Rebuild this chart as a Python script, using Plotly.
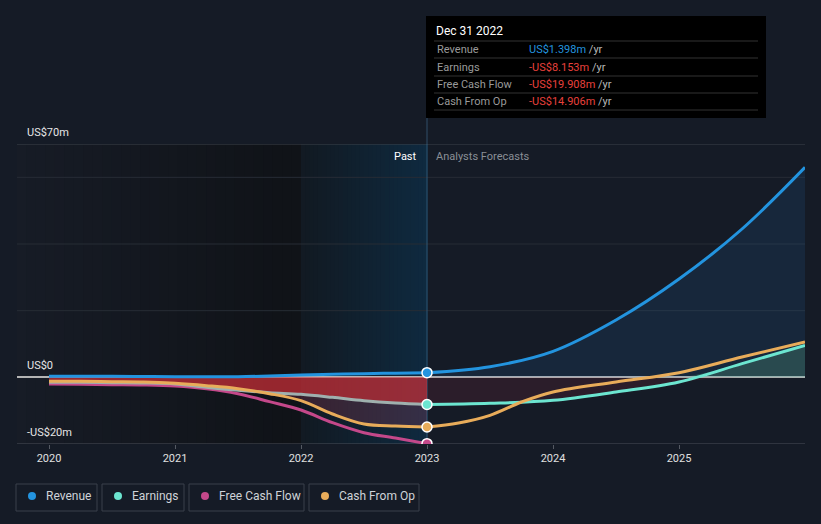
import numpy as np
import plotly.graph_objects as go

# ---------------- data ----------------
past_x = [2020.0, 2020.25, 2020.5, 2020.75, 2021.0, 2021.25, 2021.5, 2021.75,
          2022.0, 2022.25, 2022.5, 2022.75, 2023.0]
rev_past = [0.3, 0.3, 0.3, 0.25, 0.2, 0.2, 0.2, 0.4, 0.7, 0.9, 1.1, 1.25, 1.398]
earn_past = [-1.5, -1.5, -1.6, -1.7, -2.0, -3.0, -3.9, -4.6, -5.1, -6.0, -7.0, -7.7, -8.153]
fcf_past = [-2.0, -2.1, -2.2, -2.3, -2.6, -3.4, -4.9, -7.3, -9.8, -13.6, -16.6, -18.2, -19.908]
cfo_past = [-1.2, -1.2, -1.3, -1.4, -1.8, -2.5, -3.4, -4.9, -7.0, -11.0, -14.0, -14.6, -14.906]

fc_x = [2023.0, 2023.5, 2024.0, 2024.5, 2025.0, 2025.5, 2026.0]
rev_fc = [1.398, 3.2, 7.8, 17.2, 29.5, 44.5, 63.0]
earn_fc = [-8.153, -7.8, -6.9, -4.4, -1.4, 4.1, 9.6]
cfo_fc_x = [2023.0, 2023.25, 2023.5, 2023.75, 2024.0, 2024.5, 2025.0, 2025.5, 2026.0]
cfo_fc = [-14.906, -13.7, -11.4, -7.4, -4.4, -1.4, 1.4, 6.1, 10.6]

year_ticks = [2020, 2021, 2022, 2023, 2024, 2025]
y_labels = [(70, "US$70m"), (0, "US$0"), (-20, "-US$20m")]
grid_vals = [60, 40, 20]
tooltip_date = "Dec 31 2022"
series_names = ["Revenue", "Earnings", "Free Cash Flow", "Cash From Op"]

# ---------------- style ----------------
C_REV = "#2394df"
C_EARN = "#6ce5d0"
C_EARN_PAST = "#9fb0ae"
C_FCF = "#c4488a"
C_CFO = "#e8ac5a"
BG = "#151b26"
FONT = "Roboto"

X0, X1 = 2019.746, 2026.0
Y0, Y1 = -20, 70
W, H = 821, 524
ML, MR, MT, MB = 17, 16, 144, 80
PW, PH = W - ML - MR, H - MT - MB


def px(X):
    return (X - ML) / PW


def py(Y):
    return (MT + PH - Y) / PH


fig = go.Figure()

# fills
fig.add_trace(go.Scatter(x=fc_x, y=rev_fc, mode="lines", line=dict(width=0, shape="spline"),
                         fill="tozeroy", fillcolor="rgba(35,120,200,0.13)", hoverinfo="skip"))
fig.add_trace(go.Scatter(x=past_x, y=cfo_past, mode="lines", line=dict(width=0, shape="spline"),
                         fill="tozeroy", fillcolor="rgba(190,70,100,0.22)", hoverinfo="skip"))
fig.add_trace(go.Scatter(x=past_x, y=np.minimum(earn_past, 0), mode="lines",
                         line=dict(width=0, shape="spline"),
                         fill="tozeroy", fillcolor="rgba(215,45,50,0.6)", hoverinfo="skip"))
fig.add_trace(go.Scatter(x=fc_x, y=np.minimum(earn_fc, 0), mode="lines",
                         line=dict(width=0, shape="spline"),
                         fill="tozeroy", fillcolor="rgba(190,50,70,0.13)", hoverinfo="skip"))
fig.add_trace(go.Scatter(x=fc_x, y=np.maximum(earn_fc, 0), mode="lines",
                         line=dict(width=0, shape="spline"),
                         fill="tozeroy", fillcolor="rgba(110,200,150,0.22)", hoverinfo="skip"))

# lines
lw = 3
fig.add_trace(go.Scatter(x=past_x, y=fcf_past, mode="lines",
                         line=dict(color=C_FCF, width=lw, shape="spline")))
fig.add_trace(go.Scatter(x=past_x, y=earn_past, mode="lines",
                         line=dict(color=C_EARN_PAST, width=lw, shape="spline")))
fig.add_trace(go.Scatter(x=fc_x, y=earn_fc, mode="lines",
                         line=dict(color=C_EARN, width=lw, shape="spline")))
fig.add_trace(go.Scatter(x=past_x, y=cfo_past, mode="lines",
                         line=dict(color=C_CFO, width=lw, shape="spline")))
fig.add_trace(go.Scatter(x=cfo_fc_x, y=cfo_fc, mode="lines",
                         line=dict(color=C_CFO, width=lw, shape="spline")))
fig.add_trace(go.Scatter(x=past_x, y=rev_past, mode="lines",
                         line=dict(color=C_REV, width=lw, shape="spline")))
fig.add_trace(go.Scatter(x=fc_x, y=rev_fc, mode="lines",
                         line=dict(color=C_REV, width=lw, shape="spline")))

# markers at the hover point
mk_vals = [rev_past[-1], earn_past[-1], cfo_past[-1], fcf_past[-1]]
mk_cols = [C_REV, C_EARN, C_CFO, C_FCF]
fig.add_trace(go.Scatter(x=[past_x[-1]] * 4, y=mk_vals, mode="markers",
                         marker=dict(size=10, color=mk_cols, line=dict(color="white", width=1.5))))

shapes = []


def hexrgb(h):
    h = h.lstrip("#")
    return np.array([int(h[i:i + 2], 16) for i in (0, 2, 4)], dtype=float)


def strips(xa, xb, ca, cb, n=30):
    edges = np.linspace(xa, xb, n + 1)
    a, b = hexrgb(ca), hexrgb(cb)
    for i in range(n):
        t = i / (n - 1)
        c = a + (b - a) * t
        shapes.append(dict(type="rect", xref="x", yref="paper", x0=edges[i], x1=edges[i + 1] + 0.005,
                           y0=0, y1=1, line=dict(width=0), layer="below",
                           fillcolor="rgb(%d,%d,%d)" % tuple(c)))


strips(X0, 2022.0, "#171c26", "#101318")
strips(2022.0, 2023.0, "#121a23", "#0f2a3f")

# grid lines
shapes.append(dict(type="line", xref="paper", yref="y", x0=0, x1=1, y0=70, y1=70,
                   line=dict(color="#3d424a", width=1), layer="below"))
for g in grid_vals:
    shapes.append(dict(type="line", xref="paper", yref="y", x0=0, x1=1, y0=g, y1=g,
                       line=dict(color="#272c35", width=1), layer="below"))
shapes.append(dict(type="line", xref="paper", yref="y", x0=0, x1=1, y0=-20, y1=-20,
                   line=dict(color="#4a4f58", width=1), layer="below"))

# hover line
shapes.append(dict(type="line", xref="x", yref="paper", x0=past_x[-1], x1=past_x[-1],
                   y0=0, y1=py(118), line=dict(color="rgba(70,120,160,0.55)", width=1), layer="below"))

# tooltip box
shapes.append(dict(type="rect", xref="paper", yref="paper", x0=px(426), x1=px(766),
                   y0=py(118), y1=py(16), fillcolor="#000000", line=dict(width=0), layer="above"))
for Y in [41, 58, 76, 93, 110]:
    shapes.append(dict(type="line", xref="paper", yref="paper", x0=px(434), x1=px(758),
                       y0=py(Y), y1=py(Y), line=dict(color="#333333", width=1), layer="above"))

annotations = []
annotations.append(dict(xref="paper", yref="paper", x=px(434), y=py(31), text=tooltip_date,
                        showarrow=False, xanchor="left", yanchor="middle",
                        font=dict(family=FONT, size=12, color="#ffffff")))
vals = [rev_past[-1], earn_past[-1], fcf_past[-1], cfo_past[-1]]
rows_y = [49, 67, 85, 101]
for name, v, Y in zip(series_names, vals, rows_y):
    col = C_REV if v >= 0 else "#e8413c"
    s = ("US$%.3fm" % v) if v >= 0 else ("-US$%.3fm" % abs(v))
    annotations.append(dict(xref="paper", yref="paper", x=px(435), y=py(Y), text=name,
                            showarrow=False, xanchor="left", yanchor="middle",
                            font=dict(family=FONT, size=11, color="#9a9a9a")))
    annotations.append(dict(xref="paper", yref="paper", x=px(527), y=py(Y),
                            text="<span style='color:%s'>%s</span> <span style='color:#b8b8b8'>/yr</span>" % (col, s),
                            showarrow=False, xanchor="left", yanchor="middle",
                            font=dict(family=FONT, size=11, color=col)))

# y labels
for val, txt in y_labels:
    annotations.append(dict(xref="paper", yref="y", x=px(25), y=val, text=txt, showarrow=False,
                            xanchor="left", yanchor="bottom", yshift=3,
                            font=dict(family=FONT, size=11, color="#e6e6e6")))

# past / forecast labels
annotations.append(dict(xref="x", yref="paper", x=past_x[-1], y=py(156), text="Past", showarrow=False,
                        xanchor="right", yanchor="middle", xshift=-8,
                        font=dict(family=FONT, size=11, color="#ffffff")))
annotations.append(dict(xref="x", yref="paper", x=past_x[-1], y=py(156), text="Analysts Forecasts",
                        showarrow=False, xanchor="left", yanchor="middle", xshift=7,
                        font=dict(family=FONT, size=11, color="#8a8f96")))

# legend boxes
boxes = [(16, 97), (102, 184), (189, 304), (309, 419)]
for (bx0, bx1), name, col in zip(boxes, series_names, [C_REV, C_EARN, C_FCF, C_CFO]):
    shapes.append(dict(type="rect", xref="paper", yref="paper", x0=px(bx0), x1=px(bx1),
                       y0=py(511), y1=py(484), line=dict(color="#3a404b", width=1),
                       fillcolor="rgba(0,0,0,0)", layer="above"))
    shapes.append(dict(type="circle", xref="paper", yref="paper", x0=px(bx0 + 12), x1=px(bx0 + 20),
                       y0=py(500), y1=py(492), line=dict(width=0), fillcolor=col, layer="above"))
    annotations.append(dict(xref="paper", yref="paper", x=px(bx0 + 28), y=py(496), text=name,
                            showarrow=False, xanchor="left", yanchor="middle",
                            font=dict(family=FONT, size=12, color="#cfd3d8")))

fig.update_layout(
    width=W, height=H,
    margin=dict(l=ML, r=MR, t=MT, b=MB),
    paper_bgcolor=BG, plot_bgcolor=BG,
    showlegend=False,
    shapes=shapes, annotations=annotations,
    font=dict(family=FONT),
    xaxis=dict(range=[X0, X1], showgrid=False, zeroline=False, showline=False,
               tickvals=year_ticks, ticktext=[str(y) for y in year_ticks],
               ticks="outside", ticklen=4, tickcolor="#555a63",
               tickfont=dict(family=FONT, size=11, color="#e0e0e0"), fixedrange=True),
    yaxis=dict(range=[Y0, Y1], showgrid=False, showticklabels=False, zeroline=True,
               zerolinecolor="#b4b4b4", zerolinewidth=1.5, fixedrange=True),
)

fig.write_html("out.html")
